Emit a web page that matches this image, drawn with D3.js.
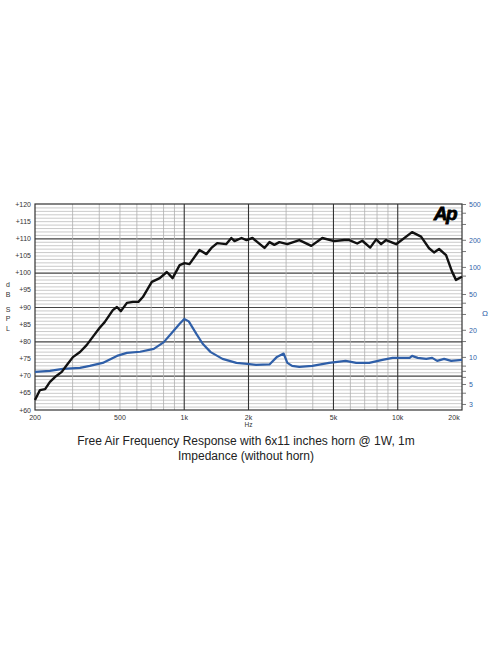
<!DOCTYPE html>
<html>
<head>
<meta charset="utf-8">
<script src="https://cdn.jsdelivr.net/npm/d3@7"></script>
<style>
  body { margin: 0; background: #fff; }
  svg { display: block; font-family: "Liberation Sans", Arial, sans-serif; }
</style>
</head>
<body>
<div id="chart"></div>
<script>
// Data
var splFreq = [200, 211, 223, 235, 248, 267, 282, 301, 325, 349, 373, 401, 424, 463, 484, 505, 539, 575, 610, 640,
  705, 768, 829, 882, 952, 1003, 1058, 1179, 1270, 1341, 1427, 1571, 1662, 1720, 1855, 1957, 2088, 2203, 2376, 2508,
  2643, 2790, 3041, 3460, 3937, 4432, 5044, 5618, 5930, 6460, 6823, 7430, 7926, 8358, 8820, 9833, 11670, 12860,
  14020, 14790, 15620, 16840, 17960, 18740, 20000];
var splDb = [62.9, 65.8, 66.1, 68.2, 69.6, 71.1, 73.1, 75.4, 76.9, 78.9, 81.3, 83.9, 85.6, 89.1, 90.0, 88.8, 91.2, 91.5, 91.5, 92.9,
  97.3, 98.4, 100.2, 98.4, 102.2, 102.8, 102.5, 106.6, 105.4, 107.2, 108.6, 108.3, 110.1, 109.2, 110.1, 109.5, 110.1, 108.9, 107.2, 108.9,
  108.1, 108.9, 108.3, 109.5, 107.8, 110.1, 109.2, 109.5, 109.5, 108.5, 109.3, 107.3, 109.7, 108.3, 109.5, 108.3, 111.8, 110.5,
  107.1, 105.9, 106.9, 105.1, 100.3, 97.9, 98.8];

var impFreq = [200, 235, 270, 325, 361, 415, 484, 539, 622, 720, 800, 882, 950, 1000, 1050, 1140, 1220, 1330, 1511, 1756,
  1973, 2168, 2508, 2718, 2920, 3041, 3201, 3460, 3980, 4770, 5700, 6390, 7350, 8480, 9460, 11370, 11670, 12410,
  13600, 14500, 15300, 16500, 17800, 20000];
var impOhm = [6.81, 6.99, 7.35, 7.54, 7.94, 8.57, 10.26, 11.07, 11.4, 12.3, 14.5, 18.9, 23.2, 26.4, 24.8, 18.0, 14.0, 11.3, 9.5, 8.57,
  8.36, 8.15, 8.25, 10.0, 10.9, 8.57, 7.94, 7.74, 7.94, 8.57, 9.02, 8.57, 8.57, 9.26, 9.75, 9.75, 10.26, 9.75,
  9.5, 9.75, 9.02, 9.5, 9.02, 9.26];

var xMajor = [1000, 2000, 5000, 10000];
var xMinor = [300, 400, 500, 600, 700, 800, 900, 3000, 4000, 6000, 7000, 8000, 9000];
var xLabels = [[200, "200"], [500, "500"], [1000, "1k"], [2000, "2k"], [5000, "5k"], [10000, "10k"], [20000, "20k"]];
var dbLabels = [60, 65, 70, 75, 80, 85, 90, 95, 100, 105, 110, 115, 120];
var ohmLabels = [500, 200, 100, 50, 20, 10, 5, 3];
var ohmTicks = [500, 400, 300, 200, 150, 100, 80, 50, 40, 30, 20, 15, 10, 8, 7, 6, 5, 4, 3];
var yUnit = ["d", "B", "S", "P", "L"];

// Layout
var width = 496, height = 664;
var plotL = 35, plotR = 462, plotT = 204, plotB = 410;
var blue = "#2f5fa8";

var svg = d3.select("#chart").append("svg")
    .attr("width", width)
    .attr("height", height);

var x = d3.scaleLog().domain([200, 20000]).range([plotL, plotR]);
var y = d3.scaleLinear().domain([60, 120]).range([plotB, plotT]);
var z = d3.scaleLog().domain([2.57, 500]).range([plotB, plotT]);

// Grid
var grid = svg.append("g");
grid.selectAll(".hmin").data(d3.range(61, 120)).enter().append("line")
    .attr("x1", plotL).attr("x2", plotR)
    .attr("y1", function(d){ return y(d) + 0.5; }).attr("y2", function(d){ return y(d) + 0.5; })
    .attr("stroke", function(d){ return d % 10 === 0 ? "#444" : "#bdbdbd"; })
    .attr("stroke-width", function(d){ return d % 10 === 0 ? 1.2 : 0.8; });
grid.selectAll(".vmin").data(xMinor).enter().append("line")
    .attr("x1", function(d){ return x(d); }).attr("x2", function(d){ return x(d); })
    .attr("y1", plotT).attr("y2", plotB)
    .attr("stroke", "#b0b0b0").attr("stroke-width", 0.8);
grid.selectAll(".vmaj").data(xMajor).enter().append("line")
    .attr("x1", function(d){ return x(d); }).attr("x2", function(d){ return x(d); })
    .attr("y1", plotT).attr("y2", plotB)
    .attr("stroke", "#333").attr("stroke-width", 1.1);
grid.append("rect")
    .attr("x", plotL).attr("y", plotT).attr("width", plotR - plotL).attr("height", plotB - plotT)
    .attr("fill", "none").attr("stroke", "#333").attr("stroke-width", 1.2);

// Left axis labels
svg.append("g").selectAll("text").data(dbLabels).enter().append("text")
    .attr("x", plotL - 4).attr("y", function(d){ return y(d) + 2.5; })
    .attr("text-anchor", "end").attr("font-size", 7).attr("fill", "#333")
    .text(function(d){ return "+" + d; });
svg.append("g").selectAll("text").data(yUnit).enter().append("text")
    .attr("x", 8).attr("y", function(d, i){ return [287, 297, 312, 321, 331][i]; })
    .attr("text-anchor", "middle").attr("font-size", 7).attr("fill", "#333")
    .text(function(d){ return d; });

// Right axis (impedance)
var zAxis = d3.axisRight(z).tickValues(ohmTicks).tickSize(4)
    .tickFormat(function(d){ return ohmLabels.indexOf(d) >= 0 ? d : ""; });
var zg = svg.append("g").attr("transform", "translate(" + plotR + ",0)").call(zAxis);
zg.select(".domain").remove();
zg.selectAll(".tick line").attr("stroke", "#555").attr("stroke-width", 0.8);
zg.selectAll(".tick text").attr("fill", blue).attr("font-size", 7)
    .attr("font-family", "Liberation Sans, Arial, sans-serif").attr("x", 7);
svg.append("text").attr("x", 485).attr("y", 316).attr("text-anchor", "middle")
    .attr("font-size", 8).attr("fill", blue).text("Ω");

// Bottom labels
svg.append("g").selectAll("text").data(xLabels).enter().append("text")
    .attr("x", function(d){ return x(d[0]) - (d[0] === 20000 ? 8 : 0); })
    .attr("y", plotB + 10)
    .attr("text-anchor", "middle").attr("font-size", 7).attr("fill", "#333")
    .text(function(d){ return d[1]; });
svg.append("text").attr("x", x(2000)).attr("y", plotB + 17)
    .attr("text-anchor", "middle").attr("font-size", 6.5).attr("fill", "#333").text("Hz");

// Curves
var splLine = d3.line().x(function(d){ return x(d[0]); }).y(function(d){ return y(d[1]); });
var impLine = d3.line().x(function(d){ return x(d[0]); }).y(function(d){ return z(d[1]); });

svg.append("path").datum(d3.zip(impFreq, impOhm))
    .attr("d", impLine).attr("fill", "none")
    .attr("stroke", blue).attr("stroke-width", 2.2).attr("stroke-linejoin", "round");
svg.append("path").datum(d3.zip(splFreq, splDb))
    .attr("d", splLine).attr("fill", "none")
    .attr("stroke", "#111").attr("stroke-width", 2.4).attr("stroke-linejoin", "round");

// AP logo
svg.append("text").attr("x", 445).attr("y", 220).attr("text-anchor", "middle")
    .attr("font-size", 19).attr("font-weight", "bold").attr("font-style", "italic")
    .attr("letter-spacing", -1.5).attr("fill", "#000")
    .attr("stroke", "#000").attr("stroke-width", 0.8)
    .text("Ap");

// Titles
svg.append("text").attr("x", 246).attr("y", 445).attr("text-anchor", "middle")
    .attr("font-size", 12).attr("fill", "#222")
    .text("Free Air Frequency Response with 6x11 inches horn @ 1W, 1m");
svg.append("text").attr("x", 246).attr("y", 460).attr("text-anchor", "middle")
    .attr("font-size", 12).attr("fill", "#222")
    .text("Impedance (without horn)");
</script>
</body>
</html>
